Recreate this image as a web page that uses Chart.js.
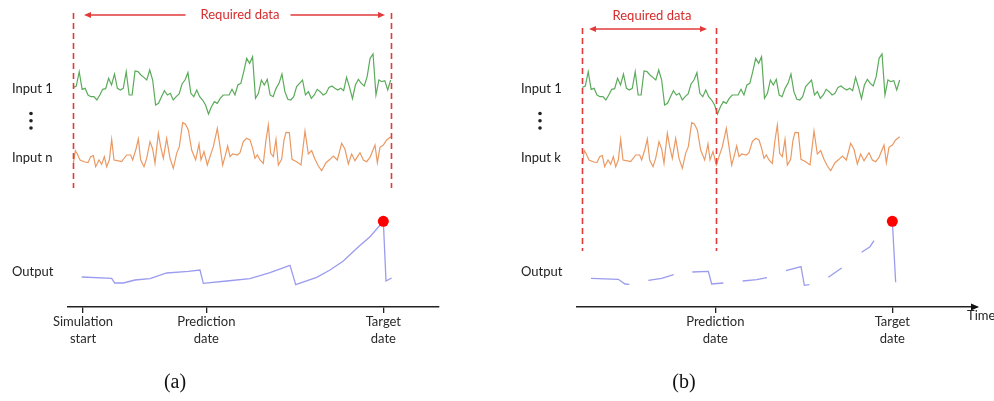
<!DOCTYPE html>
<html>
<head>
<meta charset="utf-8">
<script src="https://cdn.jsdelivr.net/npm/chart.js@4.4.0/dist/chart.umd.min.js"></script>
<style>
  html, body { margin: 0; padding: 0; background: #fff; }
  body { width: 994px; height: 401px; position: relative; overflow: hidden; }
  .panel { position: absolute; top: 0; width: 485px; height: 401px; }
</style>
</head>
<body>
<div class="panel" style="left:0"><canvas id="chartA" width="485" height="401"></canvas></div>
<div class="panel" style="left:509px"><canvas id="chartB" width="485" height="401"></canvas></div>

<script>
// ----------------------------------------------------------------
// data (time in steps: simulation start = 0, target date ~ 900)
// ----------------------------------------------------------------
const simStart = 0;
const predictionDate = 370;
const targetDate = 901;
const targetValue = 236;

// input 1 : evenly sampled from greenStart to greenEnd
const greenStart = -29;
const greenEnd = 923;
const greenValues = [
  98, 102, 145, 92, 95, 75, 70, 70, 60, 75,
  92, 94, 125, 105, 138, 95, 90, 95, 145, 75,
  75, 147, 145, 135, 128, 120, 150, 120, 45, 50,
  70, 88, 75, 80, 60, 70, 78, 108, 120, 142,
  80, 70, 90, 70, 60, 45, 18, 40, 55, 50,
  65, 75, 75, 75, 92, 75, 105, 110, 145, 185,
  170, 190, 65, 80, 120, 105, 122, 75, 70, 95,
  110, 138, 85, 62, 60, 70, 100, 110, 120, 75,
  85, 65, 75, 92, 85, 75, 80, 98, 102, 95,
  90, 95, 88, 128, 98, 64, 105, 122, 110, 102,
  130, 185, 198, 75, 120, 115, 118, 90, 120
];

// input n / k
const orangeTimes = [
  -29, -23, -17, -9, 6, 15, 23, 31, 38, 48,
  56, 64, 71, 79, 86, 93, 103, 116, 131, 143,
  149, 159, 166, 173, 183, 191, 201, 209, 216, 226,
  233, 241, 251, 261, 271, 281, 289, 299, 307, 316,
  326, 338, 348, 354, 363, 373, 381, 391, 403, 411,
  419, 426, 434, 441, 449, 463, 471, 481, 491, 501,
  509, 516, 523, 531, 541, 549, 556, 563, 571, 579,
  586, 596, 603, 609, 619, 627, 641, 654, 666, 676,
  686, 696, 706, 716, 729, 741, 751, 763, 776, 786,
  796, 806, 816, 831, 841, 851, 861, 876, 883, 891,
  901, 911, 923
];
const orangeValues = [
  50, 88, 78, 60, 54, 52, 70, 73, 40, 60,
  47, 70, 40, 60, 122, 60, 58, 55, 75, 75,
  60, 93, 123, 60, 40, 65, 115, 93, 50, 140,
  100, 65, 125, 65, 35, 80, 100, 172, 168, 150,
  90, 60, 108, 60, 85, 45, 70, 100, 155, 100,
  45, 70, 102, 70, 78, 75, 82, 115, 125, 120,
  95, 65, 75, 60, 50, 120, 165, 80, 70, 122,
  45, 62, 120, 143, 142, 62, 55, 45, 147, 78,
  88, 62, 42, 28, 52, 62, 72, 60, 110, 92,
  48, 78, 58, 82, 60, 55, 68, 105, 52, 98,
  105, 120, 130
];

// output (a): continuous
const outputTimesA = [-4, 86, 95, 121, 156, 201, 251, 316, 351, 361, 431, 501, 561, 621, 638, 701, 741, 781, 816, 829, 861, 901, 909, 926];
const outputValuesA = [69, 65, 51, 51, 60, 64, 81, 86, 90, 50, 57, 64, 82, 104, 46, 68, 90, 117, 150, 162, 190, 236, 57, 66];

// output (b): only pieces are known (null = gap)
const outputTimesB = [
  -3, 79, 99, 112, 140,
  169, 209, 245, 273,
  301, 349, 359, 394, 423,
  452, 494, 525, 553,
  582, 627, 637, 652, 680,
  709, 749, 779,
  809, 834, 846, 874,
  901, 911
];
const outputValuesB = [
  65, 62, 48, 47, null,
  59, 65, 76, null,
  84, 86, 48, 51, null,
  57, 61, 67, null,
  88, 100, 44, 46, null,
  68, 96, null,
  143, 160, 178, null,
  236, 53
];

const tickNames = {};
tickNames[simStart] = ["Simulation", "start"];
tickNames[predictionDate] = ["Prediction", "date"];
tickNames[targetDate] = ["Target", "date"];

// ----------------------------------------------------------------
// colours / fonts
// ----------------------------------------------------------------
const GREEN = "#5aab5a";
const ORANGE = "#eb9963";
const PURPLE = "#9b9bef";
const RED = "#e23a3a";
const TEXT_FONT = "Lato, 'Open Sans', sans-serif";

function pairs(times, values) {
  return times.map((t, i) => ({ x: t, y: values[i] }));
}

// ----------------------------------------------------------------
// drawing of labels, dashed limits and arrows
// ----------------------------------------------------------------
const overlay = {
  id: "overlay",
  afterDraw(chart, args, o) {
    const ctx = chart.ctx;
    const xs = chart.scales.x;
    const area = chart.chartArea;
    ctx.save();

    // row labels
    ctx.fillStyle = "#222";
    ctx.font = "13px " + TEXT_FONT;
    ctx.textAlign = "left";
    ctx.textBaseline = "middle";
    ctx.fillText("Input 1", 12, 89);
    ctx.fillText(o.inputLabel, 12, 158);
    ctx.fillText("Output", 12, 272);
    [113.5, 120.8, 128].forEach((y) => {
      ctx.beginPath();
      ctx.arc(31, y, 1.8, 0, Math.PI * 2);
      ctx.fill();
    });

    // dashed limits of required data
    ctx.strokeStyle = RED;
    ctx.lineWidth = 1.6;
    ctx.setLineDash([6, 4]);
    o.dashes.forEach((t) => {
      const px = Math.round(xs.getPixelForValue(t)) + 0.5;
      ctx.beginPath();
      ctx.moveTo(px, o.dashTop);
      ctx.lineTo(px, o.dashBottom);
      ctx.stroke();
    });
    ctx.setLineDash([]);

    // double arrow + "Required data"
    const a = o.arrow;
    const x1 = xs.getPixelForValue(a.from);
    const x2 = xs.getPixelForValue(a.to);
    const cx = xs.getPixelForValue(a.labelAt);
    ctx.font = "13px " + TEXT_FONT;
    const w = ctx.measureText("Required data").width;
    ctx.lineWidth = 1.3;
    ctx.beginPath();
    if (a.inline) {
      ctx.moveTo(x1 + 4, a.y);
      ctx.lineTo(cx - w / 2 - 15, a.y);
      ctx.moveTo(cx + w / 2 + 11, a.y);
      ctx.lineTo(x2 - 4, a.y);
    } else {
      ctx.moveTo(x1 + 4, a.y);
      ctx.lineTo(x2 - 4, a.y);
    }
    ctx.stroke();
    ctx.fillStyle = RED;
    [[x1, 1], [x2, -1]].forEach(([px, dir]) => {
      ctx.beginPath();
      ctx.moveTo(px, a.y);
      ctx.lineTo(px + dir * 7, a.y - 3);
      ctx.lineTo(px + dir * 7, a.y + 3);
      ctx.closePath();
      ctx.fill();
    });
    ctx.fillStyle = "#d62c2c";
    ctx.textAlign = "center";
    ctx.fillText("Required data", cx, a.labelY);

    // time arrow
    if (o.timeArrow) {
      const y = area.bottom;
      ctx.fillStyle = "#111";
      ctx.beginPath();
      ctx.moveTo(area.right + 2, y);
      ctx.lineTo(area.right - 6, y - 3.5);
      ctx.lineTo(area.right - 6, y + 3.5);
      ctx.closePath();
      ctx.fill();
      ctx.fillStyle = "#222";
      ctx.textAlign = "left";
      ctx.font = "13px " + TEXT_FONT;
      ctx.fillText("Time", area.right - 10, 316);
    }

    // caption
    ctx.fillStyle = "#111";
    ctx.textAlign = "center";
    ctx.font = "20px 'Liberation Serif', 'DejaVu Serif', serif";
    ctx.fillText(o.caption, 175, 383);

    ctx.restore();
  },
};

// ----------------------------------------------------------------
// one panel
// ----------------------------------------------------------------
function buildPanel(canvasId, cfg) {
  const greenStep = (greenEnd - greenStart) / (greenValues.length - 1);
  const green = greenValues.map((v, i) => ({ x: greenStart + i * greenStep, y: v }));

  return new Chart(document.getElementById(canvasId), {
    type: "line",
    data: {
      datasets: [
        {
          data: [{ x: targetDate, y: targetValue }],
          yAxisID: "yOut",
          showLine: false,
          pointRadius: 5.5,
          pointBackgroundColor: "#ff0000",
          pointBorderWidth: 0,
          order: -1,
        },
        { data: green, yAxisID: "yG", borderColor: GREEN, borderWidth: 1.2, pointRadius: 0 },
        { data: pairs(orangeTimes, orangeValues), yAxisID: "yO", borderColor: ORANGE, borderWidth: 1.2, pointRadius: 0 },
        { data: cfg.output, yAxisID: "yOut", borderColor: PURPLE, borderWidth: 1.3, pointRadius: 0, spanGaps: false },
      ],
    },
    options: {
      responsive: false,
      animation: false,
      events: [],
      layout: { padding: { left: 68, right: cfg.padRight, top: 10, bottom: 0 } },
      plugins: {
        legend: { display: false },
        tooltip: { enabled: false },
        overlay: cfg,
      },
      scales: {
        x: {
          type: "linear",
          min: -45,
          max: cfg.xMax,
          afterBuildTicks: (s) => {
            s.ticks = cfg.ticks.map((v) => ({ value: v }));
          },
          afterFit: (s) => {
            s.height = 94;
          },
          ticks: {
            callback: (v) => tickNames[v] || "",
            font: { family: TEXT_FONT, size: 13, lineHeight: 1.25 },
            color: "#2a2a2a",
            padding: 1,
            maxRotation: 0,
            autoSkip: false,
          },
          grid: { drawOnChartArea: false, drawTicks: true, tickLength: 6, color: "#222", lineWidth: 1.3 },
          border: { display: true, color: "#222", width: 1.5 },
        },
        yG: { type: "linear", display: false, min: -561, max: 330 },
        yO: { type: "linear", display: false, min: -381, max: 510 },
        yOut: { type: "linear", display: false, min: -21, max: 870 },
      },
    },
    plugins: [overlay],
  });
}

window.addEventListener("DOMContentLoaded", () => {
  buildPanel("chartA", {
    inputLabel: "Input n",
    caption: "(a)",
    xMax: 1068,
    padRight: 46,
    ticks: [simStart, predictionDate, targetDate],
    output: pairs(outputTimesA, outputValuesA),
    dashes: [-30, 924],
    dashTop: 13,
    dashBottom: 188,
    arrow: { from: 3, to: 906, y: 15, labelY: 15, labelAt: 471, inline: true },
    timeArrow: false,
  });

  buildPanel("chartB", {
    inputLabel: "Input k",
    caption: "(b)",
    xMax: 1155,
    padRight: 17,
    ticks: [predictionDate, targetDate],
    output: pairs(outputTimesB, outputValuesB),
    dashes: [-31, predictionDate + 3],
    dashTop: 28,
    dashBottom: 251,
    arrow: { from: -9, to: 345, y: 29, labelY: 16, labelAt: 180, inline: false },
    timeArrow: true,
  });
});
</script>
</body>
</html>
